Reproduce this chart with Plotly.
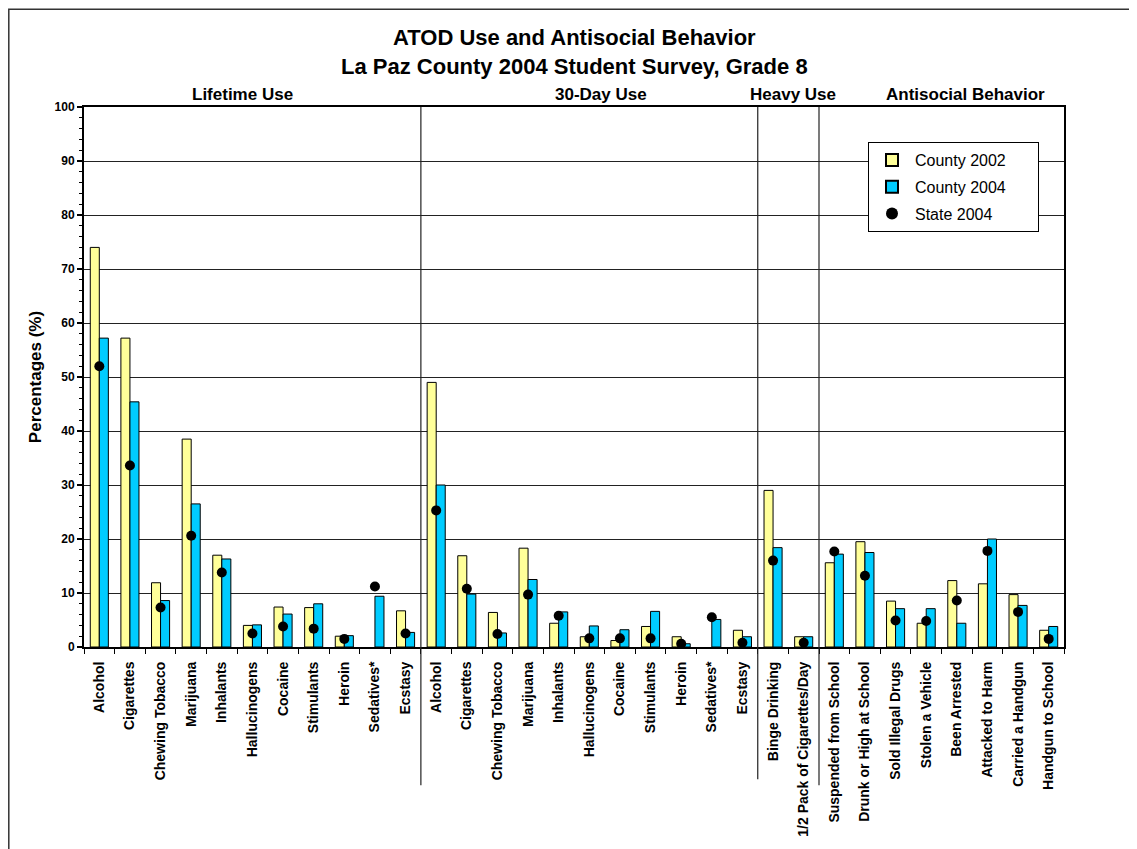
import plotly.graph_objects as go

categories = [
    "Alcohol", "Cigarettes", "Chewing Tobacco", "Marijuana", "Inhalants",
    "Hallucinogens", "Cocaine", "Stimulants", "Heroin", "Sedatives*", "Ecstasy",
    "Alcohol", "Cigarettes", "Chewing Tobacco", "Marijuana", "Inhalants",
    "Hallucinogens", "Cocaine", "Stimulants", "Heroin", "Sedatives*", "Ecstasy",
    "Binge Drinking", "1/2 Pack of Cigarettes/Day",
    "Suspended from School", "Drunk or High at School", "Sold Illegal Drugs",
    "Stolen a Vehicle", "Been Arrested", "Attacked to Harm",
    "Carried a Handgun", "Handgun to School",
]
county_2002 = [
    74.0, 57.2, 11.9, 38.5, 17.0, 4.0, 7.4, 7.3, 2.0, None, 6.7,
    49.0, 16.9, 6.4, 18.3, 4.4, 1.9, 1.2, 3.8, 1.9, None, 3.1,
    29.0, 1.9,
    15.6, 19.5, 8.5, 4.4, 12.3, 11.7, 9.7, 3.1,
]
county_2004 = [
    57.2, 45.4, 8.6, 26.5, 16.3, 4.1, 6.1, 8.0, 2.1, 9.4, 2.7,
    30.0, 9.8, 2.6, 12.5, 6.5, 3.9, 3.2, 6.6, 0.6, 5.1, 1.9,
    18.4, 1.9,
    17.2, 17.5, 7.1, 7.1, 4.4, 20.0, 7.7, 3.8,
]
state_2004 = [
    52.0, 33.6, 7.3, 20.6, 13.8, 2.5, 3.8, 3.4, 1.5, 11.2, 2.5,
    25.3, 10.8, 2.4, 9.7, 5.8, 1.6, 1.6, 1.6, 0.6, 5.5, 0.8,
    16.0, 0.8,
    17.7, 13.2, 4.9, 4.8, 8.6, 17.8, 6.5, 1.5,
]
section_names = ["Lifetime Use", "30-Day Use", "Heavy Use", "Antisocial Behavior"]
section_sizes = [11, 11, 2, 8]

FONT = "Arial, Liberation Sans, sans-serif"
PAD = "\u00a0" * 6
x = list(range(len(categories)))

fig = go.Figure()
fig.add_trace(go.Bar(
    x=x, y=county_2002, name="County 2002" + PAD, legendgroup="a",
    marker=dict(color="#FFFF99", line=dict(color="black", width=1)),
))
fig.add_trace(go.Bar(
    x=x, y=county_2004, name="County 2004" + PAD, legendgroup="b",
    marker=dict(color="#00CCFF", line=dict(color="black", width=1)),
))
fig.add_trace(go.Scatter(
    x=x, y=state_2004, name="State 2004", mode="markers", legendgroup="c",
    marker=dict(color="black", size=10, symbol="circle"),
))

# section separators
bounds = []
acc = 0
for s in section_sizes[:-1]:
    acc += s
    bounds.append(acc - 0.5)
sep_bottoms = [-0.256, -0.245, -0.256]
for b, yb in zip(bounds, sep_bottoms):
    fig.add_shape(type="line", xref="x", yref="paper", x0=b, x1=b, y0=yb, y1=1,
                  line=dict(color="#222", width=1.2))

# section headers
header_x = [4.69, 16.38, 22.65, 28.27]
for name, hx in zip(section_names, header_x):
    fig.add_annotation(x=hx, y=1.024, xref="x", yref="paper", text=f"<b>{name}</b>",
                       showarrow=False, font=dict(family=FONT, size=17, color="black"),
                       xanchor="center", yanchor="middle")

# titles
fig.add_annotation(x=0.5, y=1.129, xref="paper", yref="paper",
                   text="<b>ATOD Use and Antisocial Behavior</b>", showarrow=False,
                   font=dict(family=FONT, size=22, color="black"), xanchor="center", yanchor="middle")
fig.add_annotation(x=0.5, y=1.0756, xref="paper", yref="paper",
                   text="<b>La Paz County 2004 Student Survey, Grade 8</b>", showarrow=False,
                   font=dict(family=FONT, size=22, color="black"), xanchor="center", yanchor="middle")

# outer frame
fig.add_shape(type="rect", xref="paper", yref="paper", layer="below",
              x0=(0.8 - 76) / 980, x1=(1150 - 76) / 980,
              y0=(641 - 870) / 542, y1=(641 - 0.8) / 542,
              fillcolor="white", line=dict(color="#333", width=1.5))

fig.update_layout(
    width=1129, height=841,
    margin=dict(l=76, r=73, t=99, b=200),
    paper_bgcolor="white",
    plot_bgcolor="rgba(0,0,0,0)",
    barmode="group", bargap=0.41, bargroupgap=0,
    font=dict(family=FONT, color="black"),
    showlegend=True,
    legend=dict(x=0.8, y=0.935, xanchor="left", yanchor="top",
                bgcolor="white", bordercolor="black", borderwidth=1,
                font=dict(family=FONT, size=16, color="black"),
                traceorder="grouped", tracegroupgap=3,
                itemsizing="constant", itemwidth=36),
)
fig.update_xaxes(
    range=[-0.5, len(categories) - 0.5],
    tickmode="array", tickvals=x, ticktext=categories,
    tickangle=-90, ticks="", tickfont=dict(family=FONT, size=14, color="black", weight="bold"),
    ticklabelstandoff=7,
    showline=True, linecolor="black", linewidth=2, mirror=True,
    showgrid=False, zeroline=False,
    minor=dict(tickmode="array", tickvals=[i - 0.5 for i in range(len(categories) + 1)],
               ticks="outside", ticklen=5, tickcolor="black", tickwidth=1, showgrid=False),
)
fig.update_yaxes(
    range=[0, 100], dtick=10, tick0=0,
    title=dict(text="<b>Percentages (%)</b>", font=dict(family=FONT, size=17, color="black"), standoff=9),
    tickfont=dict(family=FONT, size=12, color="black", weight="bold"), tickformat="d",
    ticks="outside", ticklen=5, tickcolor="black", tickwidth=1.5,
    showline=True, linecolor="black", linewidth=2, mirror=True,
    showgrid=True, gridcolor="#222", gridwidth=1, zeroline=False,
    minor=dict(dtick=2, ticks="outside", ticklen=3, tickcolor="black", tickwidth=1, showgrid=False),
)

fig.write_html("out.html")
